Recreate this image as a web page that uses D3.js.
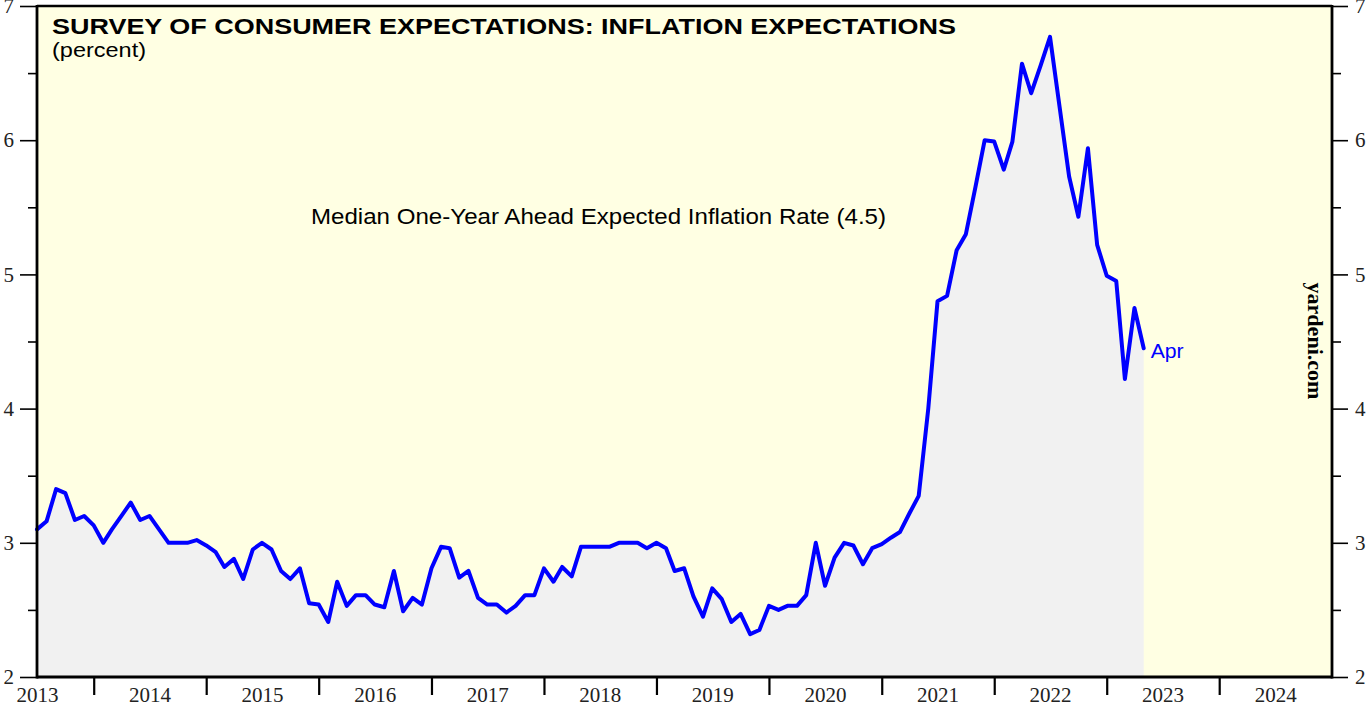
<!DOCTYPE html>
<html>
<head>
<meta charset="utf-8">
<script src="https://cdn.jsdelivr.net/npm/d3@7"></script>
<style>
  html, body { margin: 0; padding: 0; background: #ffffff; }
  svg { display: block; }
</style>
</head>
<body>
<svg id="chart" width="1367" height="712"></svg>
<script>
// ---- Data: Median one-year-ahead expected inflation (%), monthly, Jun 2013 - Apr 2023 ----
const firstMonth = [2013, 5]; // June 2013 (month index 0-based)
const v2013 = [3.10, 3.16, 3.40, 3.37, 3.17, 3.20, 3.13];
const v2014 = [3.00, 3.10, 3.20, 3.30, 3.17, 3.20, 3.10, 3.00, 3.00, 3.00, 3.02, 2.98];
const v2015 = [2.93, 2.82, 2.88, 2.73, 2.95, 3.00, 2.95, 2.79, 2.73, 2.81, 2.55, 2.54];
const v2016 = [2.41, 2.71, 2.53, 2.61, 2.61, 2.54, 2.52, 2.79, 2.49, 2.59, 2.54, 2.81];
const v2017 = [2.97, 2.96, 2.74, 2.79, 2.59, 2.54, 2.54, 2.48, 2.53, 2.61, 2.61, 2.81];
const v2018 = [2.71, 2.82, 2.75, 2.97, 2.97, 2.97, 2.97, 3.00, 3.00, 3.00, 2.96, 3.00];
const v2019 = [2.96, 2.79, 2.81, 2.60, 2.45, 2.66, 2.58, 2.41, 2.47, 2.32, 2.35, 2.53];
const v2020 = [2.50, 2.53, 2.53, 2.61, 3.00, 2.68, 2.89, 3.00, 2.98, 2.84, 2.96, 2.99];
const v2021 = [3.04, 3.08, 3.22, 3.35, 4.00, 4.80, 4.84, 5.18, 5.30, 5.65, 6.00, 5.99];
const v2022 = [5.78, 5.99, 6.57, 6.35, 6.56, 6.77, 6.25, 5.73, 5.43, 5.94, 5.22, 4.99];
const v2023 = [4.95, 4.22, 4.75, 4.45];

const yTicks = [2, 3, 4, 5, 6, 7];
const yMinorTicks = [2.5, 3.5, 4.5, 5.5, 6.5];
const yearLabels = [2013, 2014, 2015, 2016, 2017, 2018, 2019, 2020, 2021, 2022, 2023, 2024];
const titleText = "SURVEY OF CONSUMER EXPECTATIONS: INFLATION EXPECTATIONS";
const unitText = "(percent)";
const seriesLabel = "Median One-Year Ahead Expected Inflation Rate (4.5)";
const lastLabel = "Apr";
const sourceText = "yardeni.com";

// ---- Build series (monthly values plotted at month end) ----
const allValues = [].concat(v2013, v2014, v2015, v2016, v2017, v2018, v2019, v2020, v2021, v2022, v2023);
const series = allValues.map((v, i) => {
  const start = new Date(firstMonth[0], firstMonth[1] + i, 1);
  return { date: d3.timeMonth.offset(start, 1), value: v };
});

// ---- Layout ----
const svg = d3.select("#chart");
const L = 37, R = 1332, T = 6, B = 677;

const x = d3.scaleTime()
  .domain([new Date(2013, 6, 1), new Date(2025, 0, 1)])
  .range([L, R]);
const y = d3.scaleLinear().domain([2, 7]).range([B, T]);

// background
svg.append("rect").attr("x", L).attr("y", T).attr("width", R - L).attr("height", B - T)
  .attr("fill", "#ffffe3");

// area
const area = d3.area().x(d => x(d.date)).y0(y(2)).y1(d => y(d.value));
svg.append("path").datum(series).attr("d", area).attr("fill", "#f1f1f1");

// line
const line = d3.line().x(d => x(d.date)).y(d => y(d.value));
svg.append("path").datum(series).attr("d", line)
  .attr("fill", "none").attr("stroke", "#0000ff").attr("stroke-width", 4)
  .attr("stroke-linejoin", "round").attr("stroke-linecap", "round");

// ---- Axes ----
const serif = "'Liberation Serif', 'Times New Roman', serif";
const sans = "'Liberation Sans', Arial, sans-serif";

function styleAxis(g) {
  g.select(".domain").remove();
  g.selectAll("line").attr("stroke", "#000").attr("stroke-width", 1.6);
  g.selectAll("text").attr("font-family", serif).attr("font-size", 21).attr("fill", "#222");
}

// left axis major
svg.append("g").attr("transform", `translate(${L},0)`)
  .call(d3.axisLeft(y).tickValues(yTicks).tickSize(17).tickPadding(6).tickFormat(d3.format("d")))
  .call(styleAxis);
// left minor
svg.append("g").attr("transform", `translate(${L},0)`)
  .call(d3.axisLeft(y).tickValues(yMinorTicks).tickSize(9).tickFormat(""))
  .call(styleAxis);
// right axis major
svg.append("g").attr("transform", `translate(${R},0)`)
  .call(d3.axisRight(y).tickValues(yTicks).tickSize(16).tickPadding(7).tickFormat(d3.format("d")))
  .call(styleAxis);
// right minor
svg.append("g").attr("transform", `translate(${R},0)`)
  .call(d3.axisRight(y).tickValues(yMinorTicks).tickSize(9).tickFormat(""))
  .call(styleAxis);

// bottom axis: ticks at year boundaries
const yearBounds = yearLabels.slice(1).map(yr => new Date(yr, 0, 1));
svg.append("g").attr("transform", `translate(0,${B})`)
  .call(d3.axisBottom(x).tickValues(yearBounds).tickSize(18).tickFormat(""))
  .call(styleAxis)
  .selectAll("line").attr("stroke-width", 2.2);

// bottom labels at mid-year
svg.append("g").attr("transform", `translate(0,${B})`)
  .call(d3.axisBottom(x).tickValues(yearLabels.map(yr => new Date(yr, 6, 1))).tickSize(0).tickPadding(10)
    .tickFormat(d3.timeFormat("%Y")))
  .call(styleAxis);

// frame
svg.append("line").attr("x1", L).attr("x2", R).attr("y1", T).attr("y2", T)
  .attr("stroke", "#000").attr("stroke-width", 2.5);
svg.append("line").attr("x1", L).attr("x2", R).attr("y1", B).attr("y2", B)
  .attr("stroke", "#000").attr("stroke-width", 2.8);
svg.append("line").attr("x1", L).attr("x2", L).attr("y1", T - 1).attr("y2", B + 1.4)
  .attr("stroke", "#000").attr("stroke-width", 2.8);
svg.append("line").attr("x1", R).attr("x2", R).attr("y1", T - 1).attr("y2", B + 1.4)
  .attr("stroke", "#000").attr("stroke-width", 2.8);

// ---- Texts ----
svg.append("text").attr("x", 52).attr("y", 34)
  .attr("font-family", sans).attr("font-weight", "bold").attr("font-size", 22)
  .attr("textLength", 904).attr("lengthAdjust", "spacingAndGlyphs")
  .attr("fill", "#000").text(titleText);
svg.append("text").attr("x", 52).attr("y", 57)
  .attr("font-family", sans).attr("font-size", 20)
  .attr("textLength", 94).attr("lengthAdjust", "spacingAndGlyphs")
  .attr("fill", "#000").text(unitText);

svg.append("text").attr("x", 311).attr("y", 224)
  .attr("font-family", sans).attr("font-size", 22)
  .attr("textLength", 575).attr("lengthAdjust", "spacingAndGlyphs")
  .attr("fill", "#000").text(seriesLabel);

const last = series[series.length - 1];
svg.append("text").attr("x", x(last.date) + 7).attr("y", y(last.value) + 10)
  .attr("font-family", sans).attr("font-size", 21)
  .attr("textLength", 33).attr("lengthAdjust", "spacingAndGlyphs")
  .attr("fill", "#0000ff").text(lastLabel);

svg.append("text")
  .attr("transform", `translate(1308,341) rotate(90)`)
  .attr("text-anchor", "middle")
  .attr("font-family", serif).attr("font-weight", "bold").attr("font-size", 21)
  .attr("textLength", 117).attr("lengthAdjust", "spacingAndGlyphs")
  .attr("fill", "#000").text(sourceText);
</script>
</body>
</html>
